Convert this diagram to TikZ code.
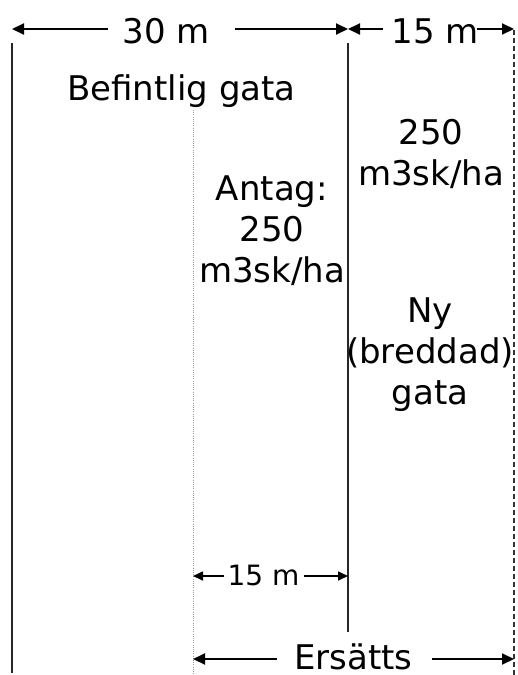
\documentclass[tikz,border=0pt]{standalone}
\usepackage{fontspec}
\setmainfont{DejaVu Sans}
\usetikzlibrary{arrows.meta}
\begin{document}
\begin{tikzpicture}[x=1pt,y=-1pt,
  lbl/.style={font=\fontsize{34}{41}\selectfont, inner sep=0pt, anchor=base, align=center},
  smalllbl/.style={font=\fontsize{28}{34}\selectfont, inner sep=0pt, anchor=base},
  wall/.style={line width=2pt, black!85},
  dimarrow/.style={line width=2pt, -{Triangle[length=12pt,width=11pt]}},
  smallarrow/.style={line width=1.6pt, -{Triangle[length=10pt,width=9pt]}},
  dottedline/.style={gray!80, line width=1pt, dash pattern=on 1pt off 1.2pt},
  dashedline/.style={black!80, line width=1.2pt, dash pattern=on 5pt off 3pt}]
\useasboundingbox (0,0) rectangle (518,675);
% vertical lines
\draw[wall] (12,43) coordinate (wlt) -- (12,673) coordinate (wlb);
\draw[wall] (348,43) coordinate (wmt) -- (348,632) coordinate (wmb);
\draw[dashedline] (514,30) coordinate (drt) -- (514,675) coordinate (drb);
\draw[dottedline] (193,110) coordinate (dlt) -- (193,675) coordinate (dlb);
% top dimension 30 m
\node[lbl] (t30) at (166.5,43) {30 m};
\coordinate (a30l) at (108,29);
\coordinate (a30r) at (235,29);
\coordinate (e30l) at (12,29);
\coordinate (e30r) at (348,29);
\draw[dimarrow] (a30l) -- (e30l);
\draw[dimarrow] (a30r) -- (e30r);
% top dimension 15 m
\node[lbl] (t15) at (435,43) {15 m};
\coordinate (a15l) at (383,29);
\coordinate (a15r) at (477,29);
\coordinate (e15l) at (348,29);
\coordinate (e15r) at (514,29);
\draw[dimarrow] (a15l) -- (e15l);
\draw[dimarrow] (a15r) -- (e15r);
% texts
\node[lbl] (bef) at (181.5,100) {Befintlig gata};
\node[lbl] (r250) at (431,185) {250\\m3sk/ha};
\node[lbl] (antag) at (272,282) {Antag:\\250\\m3sk/ha};
\node[lbl] (ny) at (430,404) {Ny\\(breddad)\\gata};
% bottom small 15 m
\node[smalllbl] (b15) at (263.5,585) {15 m};
\coordinate (b15l) at (224,576);
\coordinate (b15r) at (304,576);
\coordinate (e b15l) at (193,576);
\coordinate (e b15r) at (348,576);
\draw[smallarrow] (b15l) -- (e b15l);
\draw[smallarrow] (b15r) -- (e b15r);
% Ersätts
\node[lbl] (ers) at (353.5,669) {Ersätts};
\coordinate (ersl) at (277,659);
\coordinate (ersr) at (432,659);
\coordinate (eersl) at (193,659);
\coordinate (eersr) at (514,659);
\draw[dimarrow] (ersl) -- (eersl);
\draw[dimarrow] (ersr) -- (eersr);
\end{tikzpicture}
\end{document}
